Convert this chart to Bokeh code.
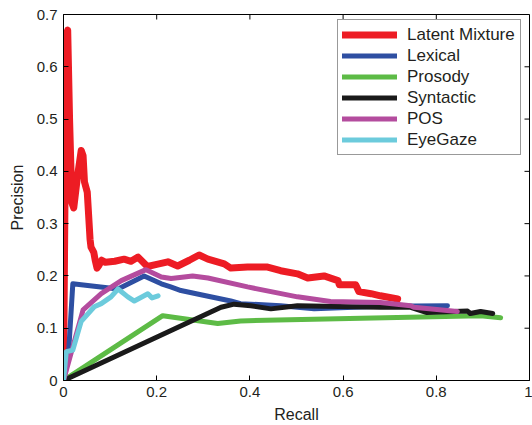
import math
from bokeh.plotting import figure
from bokeh.models import Range1d, FixedTicker, Legend, LegendItem
from bokeh.embed import file_html
from bokeh.resources import INLINE

# ---- data ----
latent_x = [0, 0.006, 0.009, 0.013, 0.018, 0.022, 0.030, 0.038, 0.042, 0.045, 0.051, 0.055, 0.057,
            0.059, 0.065, 0.068, 0.072, 0.076, 0.082, 0.090, 0.110, 0.130, 0.145, 0.160, 0.180,
            0.200, 0.224, 0.245, 0.270, 0.291, 0.310, 0.345, 0.359, 0.395, 0.438, 0.466, 0.502,
            0.524, 0.559, 0.589, 0.592, 0.627, 0.634, 0.660, 0.680, 0.717]
latent_y = [0, 0.66, 0.67, 0.50, 0.34, 0.33, 0.39, 0.44, 0.43, 0.38, 0.36, 0.30, 0.27,
            0.255, 0.245, 0.23, 0.215, 0.22, 0.23, 0.226, 0.228, 0.232, 0.228, 0.236, 0.218,
            0.222, 0.227, 0.219, 0.23, 0.24, 0.232, 0.223, 0.215, 0.217, 0.217, 0.21, 0.204,
            0.196, 0.20, 0.191, 0.183, 0.183, 0.17, 0.166, 0.162, 0.156]

lexical_x = [0, 0.010, 0.020, 0.038, 0.117, 0.173, 0.210, 0.230, 0.252, 0.295, 0.359, 0.380,
             0.466, 0.538, 0.680, 0.824]
lexical_y = [0, 0.04, 0.185, 0.183, 0.175, 0.20, 0.185, 0.179, 0.172, 0.164, 0.152, 0.147,
             0.143, 0.137, 0.142, 0.143]

prosody_x = [0, 0.213, 0.331, 0.380, 0.895, 0.938]
prosody_y = [0, 0.124, 0.109, 0.114, 0.124, 0.120]

syntactic_x = [0, 0.338, 0.366, 0.402, 0.445, 0.502, 0.680, 0.745, 0.780, 0.867, 0.873, 0.895, 0.921]
syntactic_y = [0, 0.140, 0.146, 0.143, 0.137, 0.143, 0.140, 0.140, 0.130, 0.133, 0.128, 0.132, 0.128]

pos_x = [0, 0.042, 0.081, 0.124, 0.177, 0.210, 0.231, 0.259, 0.277, 0.310, 0.395, 0.502,
         0.573, 0.680, 0.745, 0.752, 0.845]
pos_y = [0, 0.135, 0.166, 0.191, 0.212, 0.198, 0.195, 0.198, 0.20, 0.196, 0.179, 0.16,
         0.151, 0.149, 0.143, 0.14, 0.132]

eyegaze_x = [0, 0.006, 0.020, 0.038, 0.066, 0.081, 0.102, 0.117, 0.138, 0.152, 0.173, 0.181, 0.190, 0.203]
eyegaze_y = [0, 0.055, 0.058, 0.113, 0.141, 0.147, 0.160, 0.175, 0.160, 0.152, 0.162, 0.166, 0.158, 0.162]

series_names = ["Latent Mixture", "Lexical", "Prosody", "Syntactic", "POS", "EyeGaze"]
series_colors = ["#ED1C24", "#2E4FA2", "#5DBB46", "#1A1A1A", "#B44C9E", "#6CCBDC"]
series_widths = [7, 5, 5, 5, 5, 5]

x_ticks = [0, 0.2, 0.4, 0.6, 0.8, 1.0]
x_tick_labels = ["0", "0.2", "0.4", "0.6", "0.8", "1"]
y_ticks = [0, 0.1, 0.2, 0.3, 0.4, 0.5, 0.6, 0.7]
y_tick_labels = ["0", "0.1", "0.2", "0.3", "0.4", "0.5", "0.6", "0.7"]

X_MIN, X_MAX = 0, 1
Y_MIN, Y_MAX = 0, 0.7

FONT = "Liberation Sans"
TXT = "#231F20"

p = figure(width=532, height=425, output_backend="svg", toolbar_location=None,
           x_range=Range1d(X_MIN, X_MAX), y_range=Range1d(Y_MIN, Y_MAX),
           min_border_left=63, min_border_right=3, min_border_top=14, min_border_bottom=43)
p.grid.visible = False
p.outline_line_color = "black"
p.outline_line_width = 1
p.background_fill_color = "white"
p.border_fill_color = "white"

for ax in (p.xaxis[0], p.yaxis[0]):
    ax.axis_line_color = "black"
    ax.major_tick_line_color = "black"
    ax.major_tick_in = 5
    ax.major_tick_out = 0
    ax.minor_tick_line_color = None
    ax.major_label_text_font = FONT
    ax.major_label_text_color = TXT
    ax.major_label_text_font_size = "15px"
    ax.major_label_standoff = 6
    ax.axis_label_text_font = FONT
    ax.axis_label_text_font_style = "normal"
    ax.axis_label_text_font_size = "16px"
    ax.axis_label_text_color = TXT

p.xaxis.ticker = FixedTicker(ticks=x_ticks)
p.yaxis.ticker = FixedTicker(ticks=y_ticks)
p.xaxis.major_label_overrides = dict(zip(x_ticks, x_tick_labels))
p.yaxis.major_label_overrides = dict(zip(y_ticks, y_tick_labels))
p.xaxis.axis_label = "Recall"
p.yaxis.axis_label = "Precision"
p.xaxis.axis_label_standoff = 6
p.yaxis.axis_label_standoff = 8

# mirrored inward ticks on top and right edges (MATLAB box style)
p.ray(x=x_ticks, y=[Y_MAX] * len(x_ticks), length=5, length_units="screen",
      angle=-math.pi / 2, line_color="black", line_width=1)
p.ray(x=[X_MAX] * len(y_ticks), y=y_ticks, length=5, length_units="screen",
      angle=math.pi, line_color="black", line_width=1)

xs = [latent_x, lexical_x, prosody_x, syntactic_x, pos_x, eyegaze_x]
ys = [latent_y, lexical_y, prosody_y, syntactic_y, pos_y, eyegaze_y]
items = []
for name, xx, yy, c, w in zip(series_names, xs, ys, series_colors, series_widths):
    r = p.line(xx, yy, line_color=c, line_width=w, line_join="round", line_cap="round")
    items.append(LegendItem(label=name, renderers=[r]))

legend = Legend(items=items, location=(274, 225))
legend.border_line_color = "#333333"
legend.border_line_width = 1
legend.background_fill_color = "white"
legend.background_fill_alpha = 1
legend.label_text_font = FONT
legend.label_text_font_size = "17px"
legend.label_text_color = TXT
legend.glyph_width = 55
legend.glyph_height = 21
legend.label_height = 21
legend.spacing = 0
legend.padding = 4
legend.label_standoff = 10
legend.label_width = 109
legend.margin = 0
p.add_layout(legend, "center")

open("out.html", "w").write(file_html(p, INLINE))
